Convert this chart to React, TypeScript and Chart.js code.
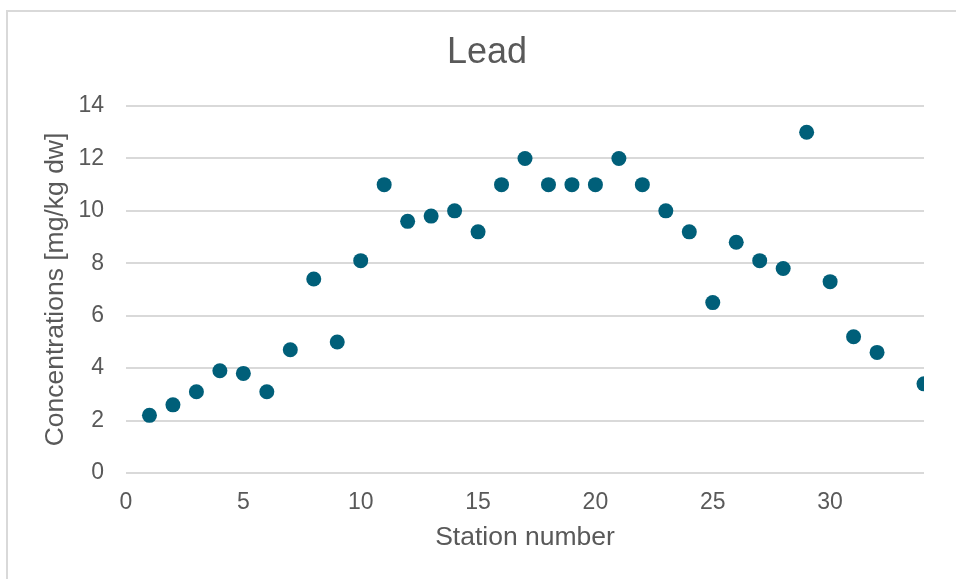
import React, { useEffect, useRef } from "react";
import { Chart, registerables } from "chart.js";

Chart.register(...registerables);

const stations = [1, 2, 3, 4, 5, 6, 7, 8, 9, 10, 11, 12, 13, 14, 15, 16, 17, 18, 19, 20, 21, 22, 23, 24, 25, 26, 27, 28, 29, 30, 31, 32, 34];
const leadValues = [2.2, 2.6, 3.1, 3.9, 3.8, 3.1, 4.7, 7.4, 5.0, 8.1, 11.0, 9.6, 9.8, 10.0, 9.2, 11.0, 12.0, 11.0, 11.0, 11.0, 12.0, 11.0, 10.0, 9.2, 6.5, 8.8, 8.1, 7.8, 13.0, 7.3, 5.2, 4.6, 3.4];

const chartTitle = "Lead";
const xTitle = "Station number";
const yTitle = "Concentrations [mg/kg dw]";

const FONT = "'Liberation Sans', Arial, sans-serif";
const TEXT = "#595959";
const GRID = "#d9d9d9";
const POINT = "#005f79";

const framePlugin = {
  id: "frame",
  beforeDraw(chart: any) {
    const ctx = chart.ctx;
    ctx.save();
    ctx.fillStyle = "#ffffff";
    ctx.fillRect(0, 0, chart.width, chart.height);
    ctx.fillStyle = GRID;
    ctx.fillRect(6, 10, 2, chart.height - 10);
    ctx.fillRect(6, 10, chart.width - 6, 2);
    ctx.restore();
  },
  afterDraw(chart: any) {
    const ctx = chart.ctx;
    ctx.save();
    ctx.fillStyle = TEXT;
    ctx.font = `36px ${FONT}`;
    ctx.textAlign = "center";
    ctx.textBaseline = "middle";
    ctx.fillText(chartTitle, 487, 53);
    ctx.restore();
  },
};

export default function App() {
  const ref = useRef<HTMLCanvasElement | null>(null);

  useEffect(() => {
    if (!ref.current) return;
    const chart = new Chart(ref.current, {
      type: "scatter",
      data: {
        datasets: [
          {
            label: chartTitle,
            data: stations.map((s, i) => ({ x: s, y: leadValues[i] })),
            backgroundColor: POINT,
            borderColor: POINT,
            pointRadius: 7.5,
            pointHoverRadius: 7.5,
            borderWidth: 0,
          },
        ],
      },
      options: {
        responsive: false,
        animation: false,
        layout: { padding: { left: 0, right: 32, top: 106, bottom: 0 } },
        plugins: {
          legend: { display: false },
          tooltip: { enabled: false },
          title: { display: false },
        },
        scales: {
          x: {
            type: "linear",
            min: 0,
            max: 34,
            grid: { display: false, drawTicks: false },
            border: { display: false },
            ticks: {
              stepSize: 5,
              includeBounds: false,
              color: TEXT,
              padding: 16,
              font: { family: FONT, size: 23 },
            },
            title: {
              display: true,
              text: xTitle,
              color: TEXT,
              font: { family: FONT, size: 26.5 },
              padding: { top: 0, bottom: 25 },
            },
            afterFit: (scale: any) => {
              scale.height = 106;
            },
          },
          y: {
            type: "linear",
            min: 0,
            max: 14,
            grid: { color: GRID, lineWidth: 2, drawTicks: false },
            border: { display: false },
            ticks: {
              stepSize: 2,
              color: TEXT,
              padding: 22,
              font: { family: FONT, size: 23 },
            },
            title: {
              display: true,
              text: yTitle,
              color: TEXT,
              font: { family: FONT, size: 26.5 },
              padding: { top: 40, bottom: 0 },
            },
            afterFit: (scale: any) => {
              scale.width = 126;
            },
          },
        },
      },
      plugins: [framePlugin],
    });
    return () => chart.destroy();
  }, []);

  return (
    <div style={{ position: "fixed", left: 0, top: 0, width: 956, height: 579 }}>
      <canvas ref={ref} width={956} height={579} />
    </div>
  );
}
